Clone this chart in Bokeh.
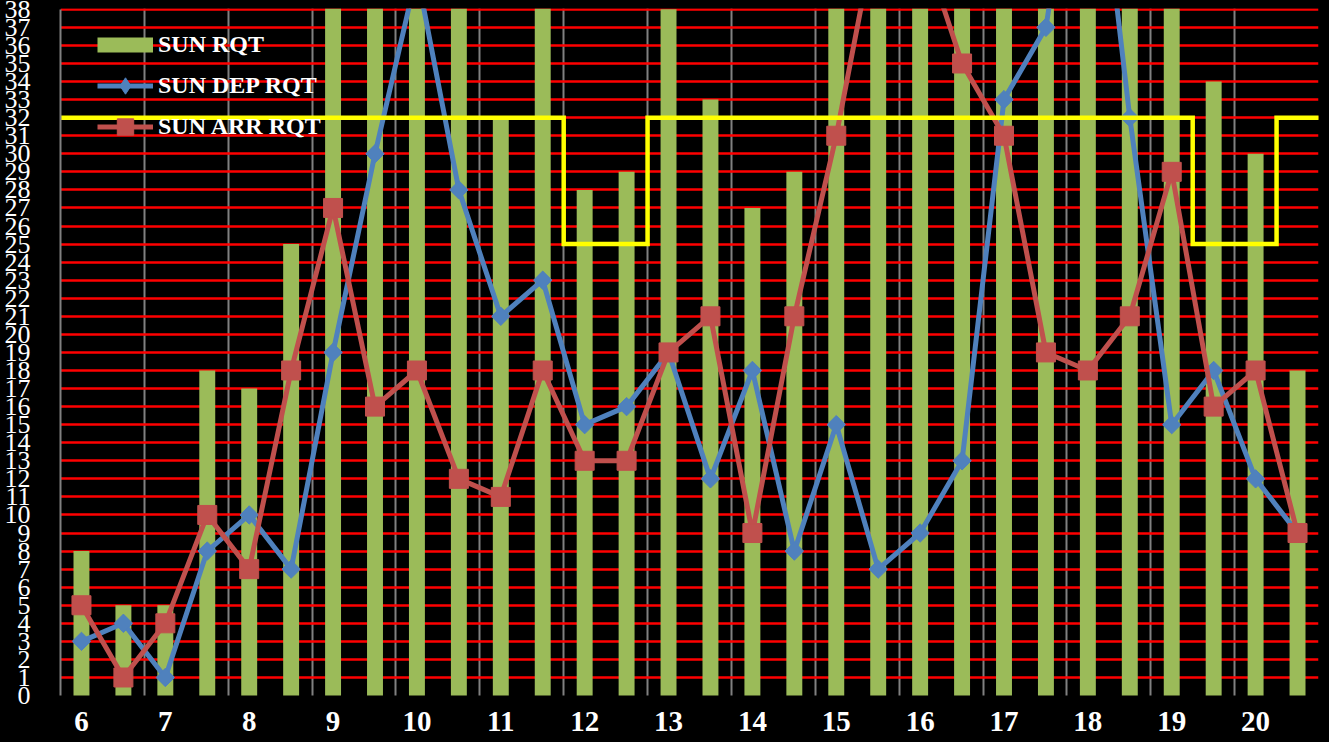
import math
from bokeh.plotting import figure
from bokeh.models import FixedTicker, Legend, LegendItem, ColumnDataSource, BoxAnnotation
from bokeh.embed import file_html
from bokeh.resources import INLINE

# ---- data (half-hour slots) ----
slots = ["6:00", "6:30", "7:00", "7:30", "8:00", "8:30", "9:00", "9:30",
         "10:00", "10:30", "11:00", "11:30", "12:00", "12:30", "13:00", "13:30",
         "14:00", "14:30", "15:00", "15:30", "16:00", "16:30", "17:00", "17:30",
         "18:00", "18:30", "19:00", "19:30", "20:00", "20:30"]
hour_labels = ["6", "7", "8", "9", "10", "11", "12", "13", "14", "15",
               "16", "17", "18", "19", "20"]
sun_rqt = [8, 5, 5, 18, 17, 25, 45, 48, 52, 46, 32, 44, 28, 29, 38, 33,
           27, 29, 42, 45, 50, 48, 55, 52, 50, 48, 46, 34, 30, 18]
sun_dep_rqt = [3, 4, 1, 8, 10, 7, 19, 30, 40, 28, 21, 23, 15, 16, 19, 12,
               18, 8, 15, 7, 9, 13, 33, 37, 52, 32, 15, 18, 12, 9]
sun_arr_rqt = [5, 1, 4, 10, 7, 18, 27, 16, 18, 12, 11, 18, 13, 13, 19, 21,
               9, 21, 31, 43, 42, 35, 31, 19, 18, 21, 29, 16, 18, 9]
capacity = [32] * 12 + [25, 25] + [32] * 13 + [25, 25] + [32]

idx = list(range(len(slots)))
src = ColumnDataSource(dict(x=idx, slot=slots, rqt=sun_rqt, dep=sun_dep_rqt, arr=sun_arr_rqt))

# step path of the capacity limit, built from the capacity list
cap_x, cap_y = [], []
for i, c in enumerate(capacity):
    cap_x += [i - 0.5, i + 0.5]
    cap_y += [c, c]
cap_x[0] -= 0.2
cap_x[-1] += 0.2

GREEN = "#9BBB59"
BLUE = "#4F81BD"
RED = "#C0504D"

Y_TOP = 38.045
Y_BOTTOM = -2.6

p = figure(width=1329, height=742, x_range=(-0.5, 29.5), y_range=(Y_BOTTOM, Y_TOP),
           output_backend="svg", toolbar_location=None,
           background_fill_color="black", border_fill_color="black",
           outline_line_color=None,
           min_border_left=60, min_border_right=11, min_border_top=8, min_border_bottom=0)

# grids
p.xgrid.ticker = FixedTicker(ticks=[-0.5 + 2 * k for k in range(16)])
p.xgrid.grid_line_color = "#808080"
p.xgrid.grid_line_width = 2
p.ygrid.ticker = FixedTicker(ticks=list(range(1, 39)))
p.ygrid.grid_line_color = "#FF0000"
p.ygrid.grid_line_width = 2.5

# black band below the zero line (keeps the category area clean)
p.add_layout(BoxAnnotation(top=0, fill_color="black", fill_alpha=1.0,
                           line_color=None, level="underlay"))

# axes
p.xaxis.ticker = FixedTicker(ticks=list(range(0, 30, 2)))
p.xaxis.major_label_overrides = {2 * i: lab for i, lab in enumerate(hour_labels)}
p.xaxis.axis_line_color = None
p.xaxis.major_tick_line_color = None
p.xaxis.minor_tick_line_color = None
p.xaxis.major_label_text_color = "white"
p.xaxis.major_label_text_font = "Liberation Serif"
p.xaxis.major_label_text_font_style = "bold"
p.xaxis.major_label_text_font_size = "29px"
p.xaxis.major_label_standoff = -37

p.yaxis.ticker = FixedTicker(ticks=list(range(0, 39)))
p.yaxis.bounds = (0, 38)
p.yaxis.axis_line_color = "#808080"
p.yaxis.axis_line_width = 2
p.yaxis.major_tick_line_color = None
p.yaxis.minor_tick_line_color = None
p.yaxis.major_label_text_color = "white"
p.yaxis.major_label_text_font = "Liberation Serif"
p.yaxis.major_label_text_font_size = "26px"
p.yaxis.major_label_standoff = 24

# series
p.vbar(x="x", top="rqt", width=0.38, source=src, fill_color=GREEN, line_color=None)
p.line("x", "dep", source=src, line_color=BLUE, line_width=5)
p.scatter("x", "dep", source=src, marker="square", angle=math.pi / 4, size=13,
          fill_color=BLUE, line_color=BLUE)
p.line("x", "arr", source=src, line_color=RED, line_width=5)
p.scatter("x", "arr", source=src, marker="square", size=19, fill_color=RED, line_color=RED)
p.line(cap_x, cap_y, line_color="#FFFF00", line_width=4.5, line_join="miter")

# legend proxies (placed outside the visible range, only the legend shows them)
off = [-50, -49]
lg_bar = p.line(x=off, y=off, line_color=GREEN, line_width=15)
lg_dep_l = p.line(x=off, y=off, line_color=BLUE, line_width=5)
lg_dep_m = p.scatter(x=off, y=off, marker="diamond", fill_color=BLUE, line_color=BLUE)
lg_arr_l = p.line(x=off, y=off, line_color=RED, line_width=5)
lg_arr_m = p.scatter(x=off, y=off, marker="square", fill_color=RED, line_color=RED)

legend = Legend(items=[LegendItem(label="SUN RQT", renderers=[lg_bar]),
                       LegendItem(label="SUN DEP RQT", renderers=[lg_dep_l, lg_dep_m]),
                       LegendItem(label="SUN ARR RQT", renderers=[lg_arr_l, lg_arr_m])],
                location=(37, 595), glyph_width=56, glyph_height=41, label_height=41,
                spacing=0, padding=0, margin=0, label_standoff=5,
                label_text_font="Liberation Serif", label_text_font_style="bold",
                label_text_font_size="24px", label_text_color="white",
                background_fill_alpha=0, border_line_color=None)
p.add_layout(legend)

html = file_html(p, INLINE)
html = html.replace("</head>",
                    "<style>html, body { background: #000000; margin: 0; padding: 0; }</style></head>", 1)
open("out.html", "w").write(html)
